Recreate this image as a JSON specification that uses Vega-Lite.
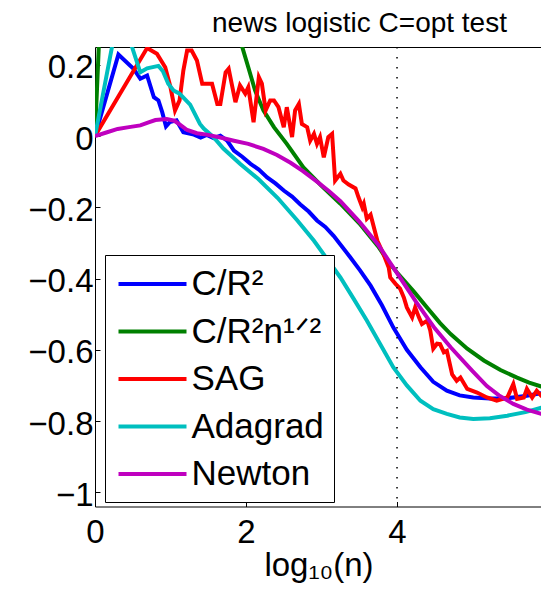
{
  "$schema": "https://vega.github.io/schema/vega-lite/v6.json",
  "width": 447,
  "height": 459.5,
  "autosize": {"type": "none"},
  "padding": {"left": 95, "top": 47, "right": -1, "bottom": 85.5},
  "background": "white",
  "title": {"text": "news logistic C=opt test", "fontSize": 28, "font": "Liberation Sans", "fontWeight": "normal", "color": "black", "anchor": "middle", "dx": 41, "offset": 8},
  "config": {
    "view": {"stroke": "black", "strokeWidth": 1},
    "axis": {"grid": false, "domain": false, "tickColor": "black", "tickSize": -5, "labelFont": "Liberation Sans", "labelFontSize": 33, "labelColor": "black", "titleFont": "Liberation Sans", "titleFontSize": 33, "titleFontWeight": "normal", "titleColor": "black"}
  },
  "layer": [
    {
      "data": {"values": [
        {"series": "C/R²", "x": 0, "y": 0}, {"series": "C/R²", "x": 0.31, "y": 0.229}, {"series": "C/R²", "x": 0.51, "y": 0.189}, {"series": "C/R²", "x": 0.60, "y": 0.161}, {"series": "C/R²", "x": 0.69, "y": 0.170}, {"series": "C/R²", "x": 0.78, "y": 0.109}, {"series": "C/R²", "x": 0.84, "y": 0.100}, {"series": "C/R²", "x": 0.89, "y": 0.067}, {"series": "C/R²", "x": 0.94, "y": 0.027}, {"series": "C/R²", "x": 0.99, "y": 0.039}, {"series": "C/R²", "x": 1.08, "y": 0.044}, {"series": "C/R²", "x": 1.17, "y": 0.011}, {"series": "C/R²", "x": 1.31, "y": 0.004}, {"series": "C/R²", "x": 1.40, "y": -0.004}, {"series": "C/R²", "x": 1.48, "y": 0.003}, {"series": "C/R²", "x": 1.57, "y": -0.006}, {"series": "C/R²", "x": 1.66, "y": 0.001}, {"series": "C/R²", "x": 1.75, "y": -0.013}, {"series": "C/R²", "x": 1.84, "y": -0.041}, {"series": "C/R²", "x": 1.95, "y": -0.058}, {"series": "C/R²", "x": 2.06, "y": -0.078}, {"series": "C/R²", "x": 2.17, "y": -0.094}, {"series": "C/R²", "x": 2.28, "y": -0.116}, {"series": "C/R²", "x": 2.39, "y": -0.133}, {"series": "C/R²", "x": 2.50, "y": -0.153}, {"series": "C/R²", "x": 2.61, "y": -0.170}, {"series": "C/R²", "x": 2.72, "y": -0.192}, {"series": "C/R²", "x": 2.83, "y": -0.212}, {"series": "C/R²", "x": 2.94, "y": -0.237}, {"series": "C/R²", "x": 3.05, "y": -0.255}, {"series": "C/R²", "x": 3.16, "y": -0.280}, {"series": "C/R²", "x": 3.38, "y": -0.340}, {"series": "C/R²", "x": 3.51, "y": -0.377}, {"series": "C/R²", "x": 3.65, "y": -0.420}, {"series": "C/R²", "x": 3.80, "y": -0.475}, {"series": "C/R²", "x": 3.95, "y": -0.537}, {"series": "C/R²", "x": 4.13, "y": -0.600}, {"series": "C/R²", "x": 4.31, "y": -0.649}, {"series": "C/R²", "x": 4.48, "y": -0.690}, {"series": "C/R²", "x": 4.66, "y": -0.715}, {"series": "C/R²", "x": 4.83, "y": -0.728}, {"series": "C/R²", "x": 5.01, "y": -0.734}, {"series": "C/R²", "x": 5.23, "y": -0.737}, {"series": "C/R²", "x": 5.46, "y": -0.736}, {"series": "C/R²", "x": 5.70, "y": -0.730}, {"series": "C/R²", "x": 5.91, "y": -0.722}, {"series": "C/R²", "x": 6.0, "y": -0.72},

        {"series": "C/R²n¹ᐟ²", "x": 0, "y": 0}, {"series": "C/R²n¹ᐟ²", "x": 0.1, "y": 0.5}, {"series": "C/R²n¹ᐟ²", "x": 1.0, "y": 1.2}, {"series": "C/R²n¹ᐟ²", "x": 1.85, "y": 0.40}, {"series": "C/R²n¹ᐟ²", "x": 1.95, "y": 0.25}, {"series": "C/R²n¹ᐟ²", "x": 2.03, "y": 0.193}, {"series": "C/R²n¹ᐟ²", "x": 2.12, "y": 0.128}, {"series": "C/R²n¹ᐟ²", "x": 2.23, "y": 0.072}, {"series": "C/R²n¹ᐟ²", "x": 2.37, "y": 0.025}, {"series": "C/R²n¹ᐟ²", "x": 2.54, "y": -0.022}, {"series": "C/R²n¹ᐟ²", "x": 2.65, "y": -0.055}, {"series": "C/R²n¹ᐟ²", "x": 2.76, "y": -0.088}, {"series": "C/R²n¹ᐟ²", "x": 2.90, "y": -0.118}, {"series": "C/R²n¹ᐟ²", "x": 3.0, "y": -0.14}, {"series": "C/R²n¹ᐟ²", "x": 3.25, "y": -0.19}, {"series": "C/R²n¹ᐟ²", "x": 3.5, "y": -0.245}, {"series": "C/R²n¹ᐟ²", "x": 3.75, "y": -0.31}, {"series": "C/R²n¹ᐟ²", "x": 3.9, "y": -0.357}, {"series": "C/R²n¹ᐟ²", "x": 4.0, "y": -0.383}, {"series": "C/R²n¹ᐟ²", "x": 4.22, "y": -0.436}, {"series": "C/R²n¹ᐟ²", "x": 4.40, "y": -0.482}, {"series": "C/R²n¹ᐟ²", "x": 4.57, "y": -0.525}, {"series": "C/R²n¹ᐟ²", "x": 4.71, "y": -0.556}, {"series": "C/R²n¹ᐟ²", "x": 4.93, "y": -0.597}, {"series": "C/R²n¹ᐟ²", "x": 5.15, "y": -0.630}, {"series": "C/R²n¹ᐟ²", "x": 5.37, "y": -0.657}, {"series": "C/R²n¹ᐟ²", "x": 5.59, "y": -0.678}, {"series": "C/R²n¹ᐟ²", "x": 5.75, "y": -0.692}, {"series": "C/R²n¹ᐟ²", "x": 5.91, "y": -0.703}, {"series": "C/R²n¹ᐟ²", "x": 6.0, "y": -0.708},

        {"series": "SAG", "x": 0, "y": 0}, {"series": "SAG", "x": 0.69, "y": 0.247}, {"series": "SAG", "x": 0.82, "y": 0.231}, {"series": "SAG", "x": 0.93, "y": 0.193}, {"series": "SAG", "x": 1.00, "y": 0.137}, {"series": "SAG", "x": 1.06, "y": 0.072}, {"series": "SAG", "x": 1.12, "y": 0.100}, {"series": "SAG", "x": 1.17, "y": 0.184}, {"series": "SAG", "x": 1.22, "y": 0.240}, {"series": "SAG", "x": 1.28, "y": 0.240}, {"series": "SAG", "x": 1.35, "y": 0.212}, {"series": "SAG", "x": 1.42, "y": 0.147}, {"series": "SAG", "x": 1.55, "y": 0.147}, {"series": "SAG", "x": 1.62, "y": 0.090}, {"series": "SAG", "x": 1.66, "y": 0.090}, {"series": "SAG", "x": 1.73, "y": 0.179}, {"series": "SAG", "x": 1.77, "y": 0.189}, {"series": "SAG", "x": 1.81, "y": 0.147}, {"series": "SAG", "x": 1.86, "y": 0.095}, {"series": "SAG", "x": 1.92, "y": 0.142}, {"series": "SAG", "x": 1.99, "y": 0.119}, {"series": "SAG", "x": 2.03, "y": 0.137}, {"series": "SAG", "x": 2.10, "y": 0.039}, {"series": "SAG", "x": 2.17, "y": 0.165}, {"series": "SAG", "x": 2.21, "y": 0.147}, {"series": "SAG", "x": 2.26, "y": 0.072}, {"series": "SAG", "x": 2.32, "y": 0.100}, {"series": "SAG", "x": 2.37, "y": 0.100}, {"series": "SAG", "x": 2.43, "y": 0.081}, {"series": "SAG", "x": 2.50, "y": 0.025}, {"series": "SAG", "x": 2.54, "y": 0.081}, {"series": "SAG", "x": 2.61, "y": -0.003}, {"series": "SAG", "x": 2.65, "y": 0.072}, {"series": "SAG", "x": 2.70, "y": 0.090}, {"series": "SAG", "x": 2.74, "y": 0.034}, {"series": "SAG", "x": 2.81, "y": 0.025}, {"series": "SAG", "x": 2.85, "y": -0.013}, {"series": "SAG", "x": 2.90, "y": 0.006}, {"series": "SAG", "x": 2.94, "y": -0.022}, {"series": "SAG", "x": 2.98, "y": -0.003}, {"series": "SAG", "x": 3.03, "y": -0.060}, {"series": "SAG", "x": 3.09, "y": -0.003}, {"series": "SAG", "x": 3.14, "y": 0.006}, {"series": "SAG", "x": 3.18, "y": -0.125}, {"series": "SAG", "x": 3.25, "y": -0.106}, {"series": "SAG", "x": 3.29, "y": -0.125}, {"series": "SAG", "x": 3.36, "y": -0.136}, {"series": "SAG", "x": 3.45, "y": -0.147}, {"series": "SAG", "x": 3.49, "y": -0.172}, {"series": "SAG", "x": 3.54, "y": -0.200}, {"series": "SAG", "x": 3.56, "y": -0.190}, {"series": "SAG", "x": 3.60, "y": -0.232}, {"series": "SAG", "x": 3.65, "y": -0.221}, {"series": "SAG", "x": 3.74, "y": -0.294}, {"series": "SAG", "x": 3.82, "y": -0.331}, {"series": "SAG", "x": 3.89, "y": -0.369}, {"series": "SAG", "x": 3.91, "y": -0.397}, {"series": "SAG", "x": 3.98, "y": -0.415}, {"series": "SAG", "x": 4.04, "y": -0.428}, {"series": "SAG", "x": 4.09, "y": -0.453}, {"series": "SAG", "x": 4.13, "y": -0.481}, {"series": "SAG", "x": 4.20, "y": -0.509}, {"series": "SAG", "x": 4.24, "y": -0.481}, {"series": "SAG", "x": 4.29, "y": -0.509}, {"series": "SAG", "x": 4.33, "y": -0.528}, {"series": "SAG", "x": 4.40, "y": -0.518}, {"series": "SAG", "x": 4.44, "y": -0.546}, {"series": "SAG", "x": 4.48, "y": -0.597}, {"series": "SAG", "x": 4.53, "y": -0.583}, {"series": "SAG", "x": 4.57, "y": -0.584}, {"series": "SAG", "x": 4.62, "y": -0.607}, {"series": "SAG", "x": 4.66, "y": -0.603}, {"series": "SAG", "x": 4.73, "y": -0.669}, {"series": "SAG", "x": 4.79, "y": -0.687}, {"series": "SAG", "x": 4.84, "y": -0.678}, {"series": "SAG", "x": 4.93, "y": -0.710}, {"series": "SAG", "x": 5.06, "y": -0.720}, {"series": "SAG", "x": 5.19, "y": -0.734}, {"series": "SAG", "x": 5.32, "y": -0.743}, {"series": "SAG", "x": 5.46, "y": -0.734}, {"series": "SAG", "x": 5.54, "y": -0.696}, {"series": "SAG", "x": 5.59, "y": -0.738}, {"series": "SAG", "x": 5.68, "y": -0.734}, {"series": "SAG", "x": 5.72, "y": -0.710}, {"series": "SAG", "x": 5.79, "y": -0.734}, {"series": "SAG", "x": 5.85, "y": -0.715}, {"series": "SAG", "x": 5.91, "y": -0.729}, {"series": "SAG", "x": 6.0, "y": -0.73},

        {"series": "Adagrad", "x": 0, "y": 0}, {"series": "Adagrad", "x": 0.225, "y": 0.25}, {"series": "Adagrad", "x": 0.35, "y": 0.31}, {"series": "Adagrad", "x": 0.49, "y": 0.25}, {"series": "Adagrad", "x": 0.60, "y": 0.179}, {"series": "Adagrad", "x": 0.69, "y": 0.19}, {"series": "Adagrad", "x": 0.84, "y": 0.197}, {"series": "Adagrad", "x": 0.90, "y": 0.182}, {"series": "Adagrad", "x": 0.97, "y": 0.147}, {"series": "Adagrad", "x": 1.04, "y": 0.128}, {"series": "Adagrad", "x": 1.12, "y": 0.119}, {"series": "Adagrad", "x": 1.26, "y": 0.088}, {"series": "Adagrad", "x": 1.39, "y": 0.034}, {"series": "Adagrad", "x": 1.44, "y": 0.021}, {"series": "Adagrad", "x": 1.57, "y": -0.003}, {"series": "Adagrad", "x": 1.70, "y": -0.035}, {"series": "Adagrad", "x": 1.92, "y": -0.078}, {"series": "Adagrad", "x": 2.16, "y": -0.120}, {"series": "Adagrad", "x": 2.42, "y": -0.174}, {"series": "Adagrad", "x": 2.68, "y": -0.237}, {"series": "Adagrad", "x": 2.90, "y": -0.294}, {"series": "Adagrad", "x": 3.25, "y": -0.397}, {"series": "Adagrad", "x": 3.42, "y": -0.455}, {"series": "Adagrad", "x": 3.60, "y": -0.518}, {"series": "Adagrad", "x": 3.78, "y": -0.585}, {"series": "Adagrad", "x": 3.95, "y": -0.649}, {"series": "Adagrad", "x": 4.13, "y": -0.700}, {"series": "Adagrad", "x": 4.31, "y": -0.743}, {"series": "Adagrad", "x": 4.48, "y": -0.767}, {"series": "Adagrad", "x": 4.66, "y": -0.780}, {"series": "Adagrad", "x": 4.83, "y": -0.790}, {"series": "Adagrad", "x": 5.01, "y": -0.794}, {"series": "Adagrad", "x": 5.23, "y": -0.792}, {"series": "Adagrad", "x": 5.46, "y": -0.785}, {"series": "Adagrad", "x": 5.70, "y": -0.775}, {"series": "Adagrad", "x": 5.91, "y": -0.763}, {"series": "Adagrad", "x": 6.0, "y": -0.76},

        {"series": "Newton", "x": 0, "y": 0}, {"series": "Newton", "x": 0.15, "y": 0.01}, {"series": "Newton", "x": 0.3, "y": 0.02}, {"series": "Newton", "x": 0.45, "y": 0.025}, {"series": "Newton", "x": 0.6, "y": 0.03}, {"series": "Newton", "x": 0.7, "y": 0.038}, {"series": "Newton", "x": 0.8, "y": 0.045}, {"series": "Newton", "x": 0.95, "y": 0.048}, {"series": "Newton", "x": 1.05, "y": 0.043}, {"series": "Newton", "x": 1.12, "y": 0.033}, {"series": "Newton", "x": 1.22, "y": 0.017}, {"series": "Newton", "x": 1.35, "y": 0.008}, {"series": "Newton", "x": 1.48, "y": 0.004}, {"series": "Newton", "x": 1.66, "y": -0.004}, {"series": "Newton", "x": 1.84, "y": -0.013}, {"series": "Newton", "x": 2.03, "y": -0.022}, {"series": "Newton", "x": 2.23, "y": -0.036}, {"series": "Newton", "x": 2.41, "y": -0.053}, {"series": "Newton", "x": 2.59, "y": -0.075}, {"series": "Newton", "x": 2.75, "y": -0.098}, {"series": "Newton", "x": 2.94, "y": -0.128}, {"series": "Newton", "x": 3.1, "y": -0.155}, {"series": "Newton", "x": 3.25, "y": -0.183}, {"series": "Newton", "x": 3.5, "y": -0.24}, {"series": "Newton", "x": 3.75, "y": -0.305}, {"series": "Newton", "x": 4.0, "y": -0.385}, {"series": "Newton", "x": 4.25, "y": -0.465}, {"series": "Newton", "x": 4.5, "y": -0.54}, {"series": "Newton", "x": 4.71, "y": -0.593}, {"series": "Newton", "x": 5.0, "y": -0.66}, {"series": "Newton", "x": 5.19, "y": -0.702}, {"series": "Newton", "x": 5.35, "y": -0.728}, {"series": "Newton", "x": 5.54, "y": -0.752}, {"series": "Newton", "x": 5.72, "y": -0.768}, {"series": "Newton", "x": 5.91, "y": -0.78}, {"series": "Newton", "x": 6.0, "y": -0.785}
      ]},
      "mark": {"type": "line", "strokeWidth": 4, "clip": true},
      "encoding": {
        "x": {"field": "x", "type": "quantitative", "scale": {"domain": [0, 5.92], "nice": false, "zero": false},
              "axis": {"values": [0, 2, 4], "format": "d", "title": "log₁₀(n)", "labelPadding": 15, "titlePadding": 0, "labelFlush": false, "labelOverlap": false}},
        "y": {"field": "y", "type": "quantitative", "scale": {"domain": [-1.04, 0.25], "nice": false, "zero": false},
              "axis": {"values": [-1, -0.8, -0.6, -0.4, -0.2, 0, 0.2], "format": "~g", "title": null, "labelPadding": 7, "labelOffset": 3, "labelOverlap": false}},
        "color": {"field": "series", "type": "nominal",
                  "scale": {"domain": ["C/R²", "C/R²n¹ᐟ²", "SAG", "Adagrad", "Newton"], "range": ["#0000ff", "#008000", "#ff0000", "#00bfbf", "#bf00bf"]},
                  "legend": {"orient": "none", "legendX": 10, "legendY": 208, "title": null, "symbolType": "M-2,0H2", "symbolSize": 1156, "symbolStrokeWidth": 4, "symbolOffset": 18.5,
                             "labelFontSize": 35, "labelFont": "Liberation Sans", "labelColor": "black", "labelLimit": 400, "labelOffset": 20,
                             "strokeColor": "black", "fillColor": "white", "padding": 10, "rowPadding": 10.5}}
      }
    },
    {
      "data": {"values": [{"x": 4}]},
      "mark": {"type": "rule", "strokeDash": [1.5, 8.5], "strokeWidth": 1.5, "color": "black"},
      "encoding": {"x": {"field": "x", "type": "quantitative"}}
    }
  ]
}
